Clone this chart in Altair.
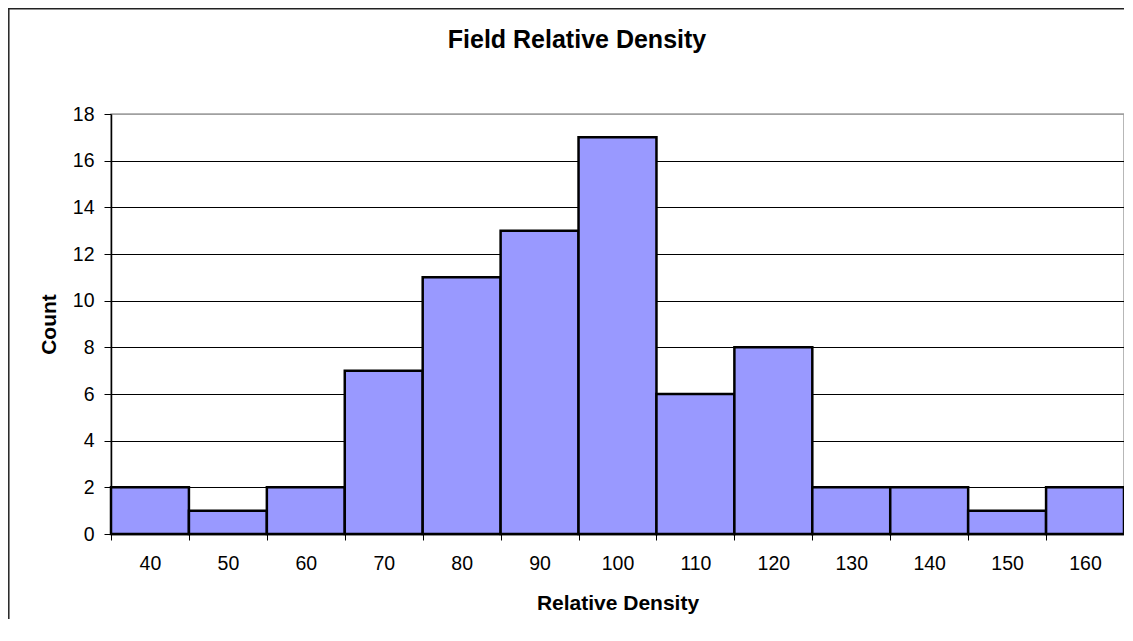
import altair as alt
import pandas as pd

bins = [40, 50, 60, 70, 80, 90, 100, 110, 120, 130, 140, 150, 160]
counts = [2, 1, 2, 7, 11, 13, 17, 6, 8, 2, 2, 1, 2]
y_ticks = [0, 2, 4, 6, 8, 10, 12, 14, 16, 18]
chart_title = "Field Relative Density"
x_title = "Relative Density"
y_title = "Count"

df = pd.DataFrame({"bin": bins, "count": counts})

W, H = 1013, 420
FONT = "Liberation Sans"

x_enc = alt.X(
    "bin:O",
    sort=bins,
    scale=alt.Scale(paddingInner=0, paddingOuter=0),
    axis=alt.Axis(
        title=x_title,
        labelAngle=0,
        tickBand="extent",
        tickSize=6,
        tickColor="black",
        tickWidth=1,
        domainColor="black",
        domainWidth=1.5,
        labelFontSize=19.5,
        labelFont=FONT,
        labelColor="black",
        labelPadding=14,
        titleFont=FONT,
        titleFontSize=21,
        titleFontWeight="bold",
        titleColor="black",
        titleBaseline="alphabetic",
        titleX=W / 2,
        titleY=75,
        grid=False,
    ),
)

y_enc = alt.Y(
    "count:Q",
    scale=alt.Scale(domain=[0, 18], nice=False),
    axis=alt.Axis(
        title=y_title,
        values=y_ticks,
        tickSize=7,
        tickColor="black",
        tickWidth=1,
        domainColor="black",
        domainWidth=1.5,
        labelFontSize=19.5,
        labelFont=FONT,
        labelColor="black",
        labelPadding=10,
        titleFont=FONT,
        titleFontSize=21,
        titleFontWeight="bold",
        titleColor="black",
        titleBaseline="alphabetic",
        titleAlign="center",
        titleAngle=-90,
        titleX=-56,
        titleY=H / 2,
        grid=True,
        gridColor=alt.condition("datum.value == 18", alt.value("#a0a0a0"), alt.value("black")),
        gridWidth=1,
    ),
)

bars = alt.Chart(df).mark_bar(
    color="#9999FF", stroke="black", strokeWidth=2.5
).encode(x=x_enc, y=y_enc)

title_df = pd.DataFrame({"t": [chart_title]})
title = alt.Chart(title_df).mark_text(
    font=FONT, fontSize=25, fontWeight="bold", color="black",
    align="center", baseline="alphabetic"
).encode(x=alt.value(466), y=alt.value(-66), text="t:N")

border_left = alt.Chart(title_df).mark_rule(color="#222", strokeWidth=1.5).encode(
    x=alt.value(-102.2), y=alt.value(-106), y2=alt.value(520)
)
border_top = alt.Chart(title_df).mark_rule(color="#222", strokeWidth=1.5).encode(
    y=alt.value(-105.2), x=alt.value(-103), x2=alt.value(1020)
)

chart = alt.layer(bars, title, border_left, border_top).properties(
    width=W,
    height=H,
    autosize=alt.AutoSizeParams(type="none"),
    padding={"left": 103, "top": 106, "right": 0, "bottom": 85},
    background="white",
).configure_view(stroke="#a0a0a0", strokeWidth=1.5)

chart.save("out.html", embed_options={"renderer": "svg", "actions": False})
